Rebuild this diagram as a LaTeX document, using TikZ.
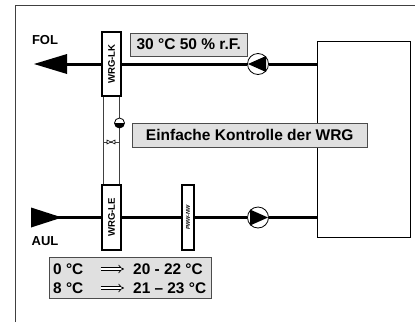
\documentclass[tikz,border=0pt]{standalone}
\usepackage{fontspec}
\setmainfont{Liberation Sans}
\usetikzlibrary{calc,arrows}
\tikzset{
  waermetauscher/.style={draw,line width=1.5pt,fill=white,inner sep=0pt,font=\bfseries\fontsize{9.6}{9.6}\selectfont},
  infobox/.style={draw=black!70,line width=.8pt,fill=black!12,inner sep=0pt,anchor=center,font=\bfseries\fontsize{15.5}{15.5}\selectfont},
  rohr/.style={line width=3pt},
  steig/.style={line width=.8pt,black!75},
  luft/.style={inner sep=0pt,font=\bfseries\fontsize{13}{13}\selectfont},
  pumpe/.style={circle,draw,line width=.8pt,fill=white,inner sep=0pt,minimum size=21pt},
  temp/.style={inner sep=0pt,anchor=west,font=\bfseries\fontsize{15.4}{15.4}\selectfont}
}
\begin{document}
\begin{tikzpicture}[x=1pt,y=-1pt]
  \useasboundingbox (0,0) rectangle (420,322);
  \draw[line width=1pt,black!75] (15.5,322) -- (15.5,5.5) -- (415,5.5);
  \node[draw,line width=.8pt,minimum width=93pt,minimum height=196pt,inner sep=0pt](anlage)at(364,139){};
  \node[waermetauscher,minimum width=19pt,minimum height=64pt](wrglk)at(111.5,64){\rotatebox{90}{WRG-LK}};
  \node[waermetauscher,minimum width=19pt,minimum height=65pt](wrgle)at(111.5,217.5){\rotatebox{90}{WRG-LE}};
  \node[waermetauscher,minimum width=12pt,minimum height=65pt,font=\bfseries\itshape\fontsize{5.5}{5.5}\selectfont](pwwnw)at(188,217.5){\rotatebox{90}{PWW-NW}};
  \node[pumpe](pumpeo)at(258,64){};
  \node[pumpe](pumpeu)at(258,217.5){};
  \fill (248,64) -- (266,56) -- (266,72) -- cycle;
  \fill (268,217.5) -- (250,209.5) -- (250,225.5) -- cycle;
  \coordinate (fol) at (60,64);
  \coordinate (aul) at (55,217.5);
  \fill (34,64) -- (67,54) -- (67,74) -- cycle;
  \fill (31,207.5) -- (62,217.5) -- (31,227.5) -- cycle;
  \draw[rohr] (fol) -- (wrglk);
  \draw[rohr] (wrglk) -- (pumpeo);
  \draw[rohr] (pumpeo) -- (pumpeo-|anlage.west);
  \draw[rohr] (aul) -- (wrgle);
  \draw[rohr] (wrgle) -- (pwwnw);
  \draw[rohr] (pwwnw) -- (pumpeu);
  \draw[rohr] (pumpeu) -- (pumpeu-|anlage.west);
  % Steigleitung zwischen den Registern
  \foreach \x in {-8.5, 8} \draw[steig] ($(wrglk.south)+(\x,0)$) -- ($(wrgle.north)+(\x,0)$);
  \coordinate (ventill) at ($(wrglk.south)+(-8.5,46)$);
  \coordinate (ventilr) at ($(wrglk.south)+(8,46)$);
  \draw[steig] (ventill) -- (ventilr);
  \draw[line width=.6pt,fill=white] (107,140) -- (115,144) -- (115,140) -- (107,144) -- cycle;
  \node[circle,draw,line width=.8pt,fill=white,inner sep=0pt,minimum size=10pt](fuehler)at(119.5,123){};
  \fill (114.5,123) arc (180:0:5) -- cycle;
  \node[infobox,minimum width=116.5pt,minimum height=23pt](zuluft)at(188.75,44.5){30 °C 50 \% r.F.};
  \node[infobox,minimum width=234.5pt,minimum height=24pt](kontrolle)at(249.75,135){Einfache Kontrolle der WRG};
  \node[infobox,minimum width=162pt,minimum height=41pt](tabelle)at(130,277.5){};
  \node[luft](follabel)at(45,40.5){FOL};
  \node[luft](aullabel)at(45,241.5){AUL};
  \foreach \y/\von/\nach in {269/0/20 - 22, 288/8/21 – 23}{
    \node[temp](von\y)at(53,\y){\von{} °C};
    \node[temp](nach\y)at(133,\y){\nach{} °C};
    \draw[double,double distance=2.2pt,line width=.7pt,-implies,shorten <=17pt,shorten >=9pt] (von\y) -- (von\y-|nach\y.west);
  }
\end{tikzpicture}
\end{document}
